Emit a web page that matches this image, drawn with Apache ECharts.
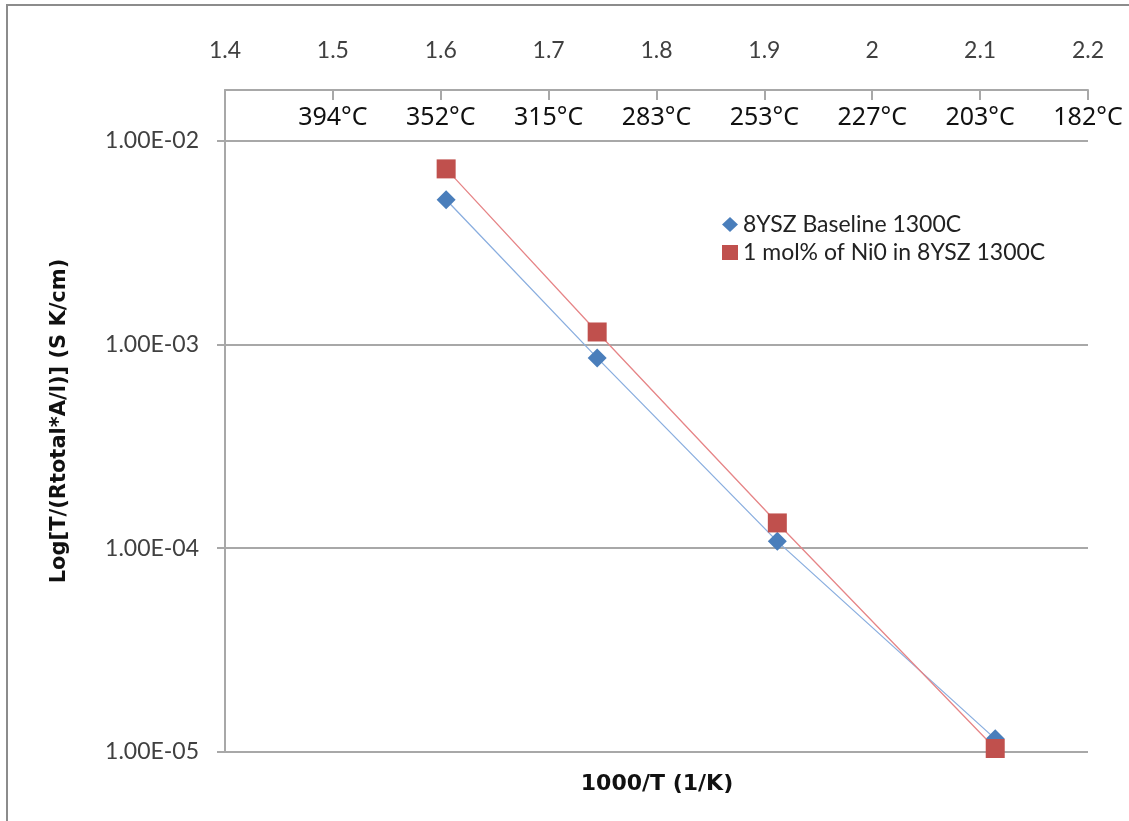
<!DOCTYPE html>
<html>
<head>
<meta charset="utf-8">
<script src="https://cdn.jsdelivr.net/npm/echarts@6/dist/echarts.min.js"></script>
<style>
  html, body { margin: 0; padding: 0; background: #fff; }
  #chart { width: 1129px; height: 821px; }
</style>
</head>
<body>
<div id="chart"></div>
<script>
// Inverse temperature 1000/T (1/K) of each measurement
const invT = [1.605, 1.745, 1.912, 2.114];
// T/(Rtotal*A/l) in S K/cm
const baseline = [5.12e-3, 8.58e-4, 1.08e-4, 1.16e-5];
const nioDoped = [7.26e-3, 1.15e-3, 1.33e-4, 1.04e-5];

const seriesNames = ['8YSZ Baseline 1300C', '1 mol% of Ni0 in 8YSZ 1300C'];

// Top axis: 1000/T ticks and the matching temperatures
const xTickLabels = ['1.4', '1.5', '1.6', '1.7', '1.8', '1.9', '2', '2.1', '2.2'];
const tempLabels = ['', '394°C', '352°C', '315°C', '283°C', '253°C', '227°C', '203°C', '182°C'];

// Log axis decades
const yTicks = [1e-5, 1e-4, 1e-3, 1e-2];
const yTickLabels = ['1.00E-05', '1.00E-04', '1.00E-03', '1.00E-02'];

const X_MIN = 1.4, X_MAX = 2.2, X_STEP = 0.1;
const GRAY = '#a8a8a8';
const TITLE_FONT = { fontFamily: 'DejaVu Sans', fontSize: 21, fontWeight: 'bold', color: '#111' };

const xIndex = v => Math.round((v - X_MIN) / X_STEP);
const pairs = ys => invT.map((x, i) => [x, ys[i]]);

const chart = echarts.init(document.getElementById('chart'));

chart.setOption({
  animation: false,
  backgroundColor: '#fff',
  grid: { left: 225, right: 41, top: 90, bottom: 69, containLabel: false },
  title: {
    text: '1000/T (1/K)',
    left: 652,
    top: 768,
    textAlign: 'center',
    textStyle: Object.assign({}, TITLE_FONT, { fontSize: 22 })
  },
  legend: {
    orient: 'vertical',
    left: 717,
    top: 208,
    itemGap: 5,
    itemWidth: 16,
    itemHeight: 15,
    textStyle: { fontFamily: 'Lato', fontSize: 23, color: '#222' },
    data: [
      { name: seriesNames[0], icon: 'diamond' },
      { name: seriesNames[1], icon: 'rect' }
    ]
  },
  xAxis: [
    {
      type: 'value',
      position: 'top',
      min: X_MIN,
      max: X_MAX,
      interval: X_STEP,
      axisLine: { show: true, lineStyle: { color: GRAY, width: 2 } },
      axisTick: { show: true, inside: true, length: 10, lineStyle: { color: GRAY, width: 2 } },
      axisLabel: {
        margin: 28,
        fontFamily: 'Lato',
        fontSize: 23,
        color: '#404040',
        showMinLabel: true,
        showMaxLabel: true,
        formatter: v => xTickLabels[xIndex(v)]
      },
      splitLine: { show: false }
    },
    {
      type: 'value',
      position: 'top',
      min: X_MIN,
      max: X_MAX,
      interval: X_STEP,
      axisLine: { show: false },
      axisTick: { show: false },
      axisLabel: {
        inside: true,
        margin: 15,
        fontFamily: 'Noto Sans',
        fontSize: 25,
        color: '#111',
        showMinLabel: true,
        showMaxLabel: true,
        formatter: v => tempLabels[xIndex(v)] || ''
      },
      splitLine: { show: false }
    }
  ],
  yAxis: {
    type: 'log',
    logBase: 10,
    min: 1e-5,
    max: 0.0177,
    name: 'Log[T/(Rtotal*A/l)] (S K/cm)',
    nameLocation: 'middle',
    nameRotate: 90,
    nameGap: 155,
    nameTextStyle: TITLE_FONT,
    axisLine: { show: true, lineStyle: { color: GRAY, width: 2 } },
    axisTick: { show: true, length: 8, customValues: yTicks, lineStyle: { color: GRAY, width: 2 } },
    axisLabel: {
      customValues: yTicks,
      margin: 26,
      fontFamily: 'Lato',
      fontSize: 23,
      color: '#404040',
      formatter: v => yTickLabels[Math.round(Math.log10(v)) + 5]
    },
    splitLine: { show: true, lineStyle: { color: GRAY, width: 2 } }
  },
  series: [
    {
      name: seriesNames[0],
      type: 'line',
      data: pairs(baseline),
      symbol: 'diamond',
      symbolSize: 19,
      itemStyle: { color: '#4a7ebb' },
      lineStyle: { color: '#8aaedf', width: 1.3 },
      z: 3
    },
    {
      name: seriesNames[1],
      type: 'line',
      data: pairs(nioDoped),
      symbol: 'rect',
      symbolSize: 19,
      itemStyle: { color: '#c0504d' },
      lineStyle: { color: '#e68587', width: 1.3 },
      z: 4
    }
  ],
  graphic: [
    {
      type: 'rect',
      silent: true,
      shape: { x: 7, y: 5, width: 2000, height: 2000 },
      style: { fill: 'none', stroke: '#8c8c8c', lineWidth: 2 }
    }
  ]
});
</script>
</body>
</html>
